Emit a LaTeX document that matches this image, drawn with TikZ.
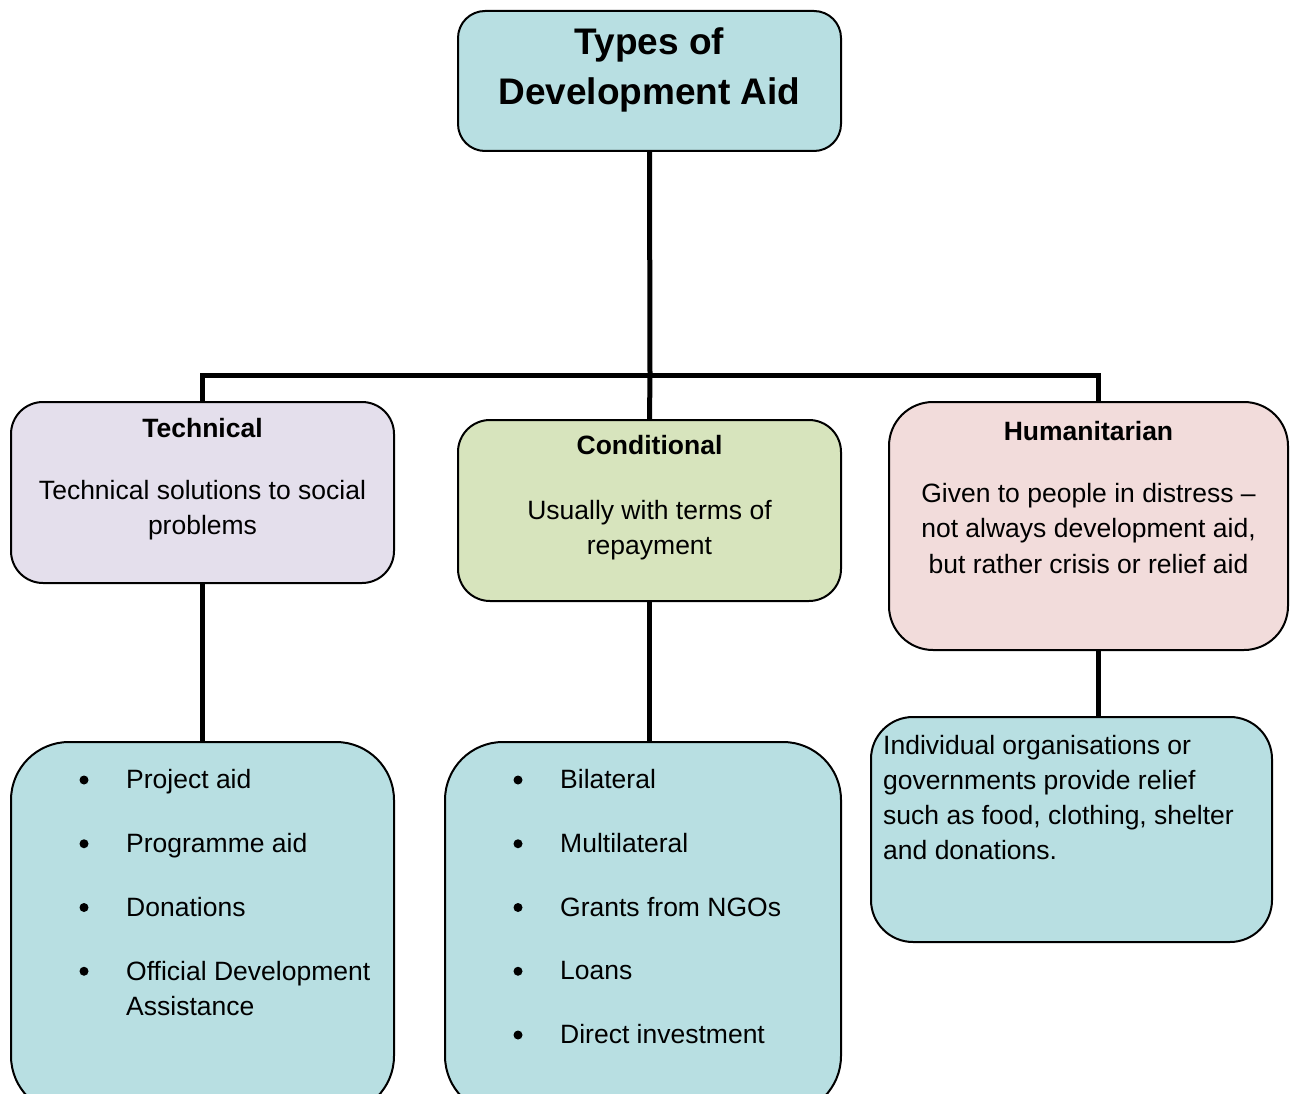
\documentclass[tikz,border=0pt]{standalone}
\usepackage{fontspec}
\setmainfont{Liberation Sans}
\usetikzlibrary{calc}

\definecolor{aidblue}{HTML}{B8DFE2}
\definecolor{aidlilac}{HTML}{E4DFEC}
\definecolor{aidgreen}{HTML}{D7E4BD}
\definecolor{aidpink}{HTML}{F2DCDB}

\begin{document}
\begin{tikzpicture}[x=1pt,y=-1pt,
	aidbox/.style={draw=black, line width=2pt, rectangle, inner sep=0pt},
	link/.style={line width=5pt, line join=miter},
	title/.style={font=\fontsize{37}{50}\selectfont\bfseries, align=center, anchor=north, inner sep=0pt},
	head/.style={font=\fontsize{26.5}{35.5}\selectfont\bfseries, anchor=base, inner sep=0pt},
	body/.style={font=\fontsize{26.5}{35.5}\selectfont, align=center, anchor=north, inner sep=0pt},
	item/.style={font=\fontsize{26.5}{35}\selectfont, align=left, anchor=north west, inner sep=0pt},
	bulletdot/.style={circle, fill=black, inner sep=0pt, minimum size=9pt}]
	\clip (0,0) rectangle (1293,1094);
	
	% Box for the title
	\node[aidbox, fill=aidblue, rounded corners=27pt, minimum width=383pt, minimum height=140pt] (types) at (649.5,81) {};
	\node[title] (types-text) at (649.5,27) {Types of\\Development Aid};
	
	% The three kinds of aid
	\node[aidbox, fill=aidlilac, rounded corners=32pt, minimum width=383pt, minimum height=181pt] (tech) at (202.5,492.5) {};
	\node[head] (tech-head) at (202.5,437) {Technical};
	\node[body] (tech-body) at (202.5,480) {Technical solutions to social\\problems};
	
	\node[aidbox, fill=aidgreen, rounded corners=32pt, minimum width=383pt, minimum height=181pt] (cond) at (649.5,510.5) {};
	\node[head] (cond-head) at (649.5,454.5) {Conditional};
	\node[body] (cond-body) at (649.5,500) {Usually with terms of\\repayment};
	
	\node[aidbox, fill=aidpink, rounded corners=44pt, minimum width=399pt, minimum height=248pt] (hum) at (1088.5,526) {};
	\node[head] (hum-head) at (1088.5,440) {Humanitarian};
	\node[body] (hum-body) at (1088.5,483) {Given to people in distress --\\not always development aid,\\but rather crisis or relief aid};
	
	% Boxes with the examples
	\node[aidbox, fill=aidblue, rounded corners=58pt, minimum width=383pt, minimum height=372pt] (techlist) at (202.5,928) {};
	\node[aidbox, fill=aidblue, rounded corners=58pt, minimum width=396pt, minimum height=372pt] (condlist) at (643,928) {};
	\node[aidbox, fill=aidblue, rounded corners=42pt, minimum width=401pt, minimum height=225pt] (relief) at (1071.5,829.5) {};
	\node[item] (relief-text) at (883,735) {Individual organisations or\\governments provide relief\\such as food, clothing, shelter\\and donations.};
	
	\foreach \entry [count=\i] in {Project aid, Programme aid, Donations, {Official Development\\Assistance}} {
		\pgfmathsetmacro\ypos{788 + (\i-1)*63.75}
		\node[bulletdot] (tech-dot-\i) at (84,\ypos-8) {};
		\node[item] (tech-item-\i) at (126,\ypos-18.5) {\entry};
	}
	\foreach \entry [count=\i] in {Bilateral, Multilateral, Grants from NGOs, Loans, Direct investment} {
		\pgfmathsetmacro\ypos{788 + (\i-1)*63.75}
		\node[bulletdot] (cond-dot-\i) at (518,\ypos-8) {};
		\node[item] (cond-item-\i) at (560,\ypos-18.5) {\entry};
	}
	
	% Connectors
	\coordinate (bus) at (650,375);
	\coordinate (humlink) at (1098,375);
	\draw[link] (types.south) -- (bus);
	\draw[link] (tech.north) |- (bus) -| (humlink |- hum.north);
	\draw[link] (bus) -- (cond.north);
	\draw[link] (tech.south) -- (techlist.north);
	\draw[link] (cond.south) -- (cond.south |- condlist.north);
	\draw[link] (humlink |- hum.south) -- (humlink |- relief.north);
\end{tikzpicture}
\end{document}
